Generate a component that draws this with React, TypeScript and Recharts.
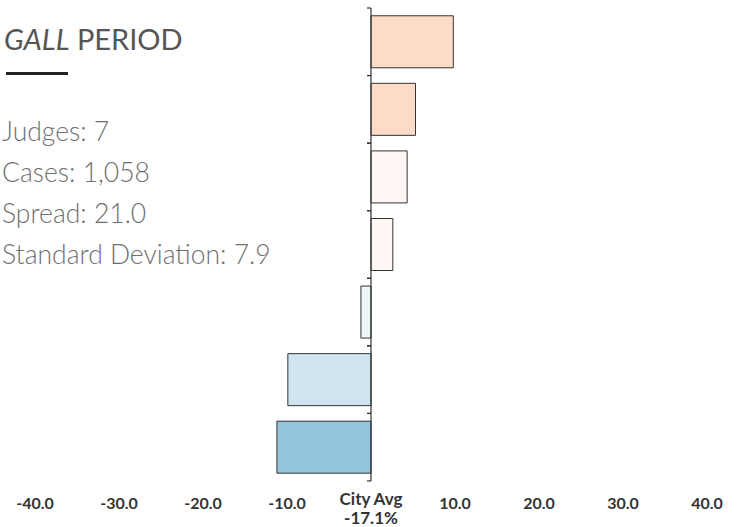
import { Bar, BarChart, Cell, ReferenceLine, Rectangle, XAxis, YAxis } from "recharts";

const judges = ["Judge A", "Judge B", "Judge C", "Judge D", "Judge E", "Judge F", "Judge G"];
const diffs = [9.8, 5.3, 4.3, 2.6, -1.2, -9.9, -11.2];
const colors = ["#fddbc7", "#fddbc7", "#fff7f3", "#fff7f3", "#eff6fa", "#d1e5f0", "#92c5de"];
const xTicks = [-40, -30, -20, -10, 0, 10, 20, 30, 40];
const cityAvg = "-17.1%";
const stats = ["Judges: 7", "Cases: 1,058", "Spread: 21.0", "Standard Deviation: 7.9"];

const chartData = judges.map((name, i) => ({ name, diff: diffs[i] }));

const GAP = 0.115; // share of the band left empty on each side of a bar
const font = { fontFamily: "Lato", fontWeight: 700, fill: "#333" };

function XTick({ x, y, payload }: any) {
  if (payload.value === 0) {
    return (
      <text x={x} y={y} textAnchor="middle" fontSize={17} {...font}>
        <tspan x={x} dy={16}>City Avg</tspan>
        <tspan x={x} dy={19}>{cityAvg}</tspan>
      </text>
    );
  }
  return (
    <text x={x} y={y} dy={20} textAnchor="middle" fontSize={16} {...font}>
      {Number(payload.value).toFixed(1)}
    </text>
  );
}

// bar plus the small ticks on the zero axis at the edges of its band
function BarWithTicks(props: any) {
  const { x, y, width, height, fill } = props;
  const zeroX = props.diff >= 0 ? Math.min(x, x + width) : Math.max(x, x + width);
  const band = height / (1 - 2 * GAP);
  const top = y - band * GAP;
  const bottom = top + band;
  return (
    <g>
      <Rectangle x={x} y={y} width={width} height={height} fill={fill} stroke="#333" strokeWidth={1} />
      <line x1={zeroX - 4} x2={zeroX} y1={top} y2={top} stroke="#333" strokeWidth={1.2} />
      <line x1={zeroX - 4} x2={zeroX} y1={bottom} y2={bottom} stroke="#333" strokeWidth={1.2} />
    </g>
  );
}

export default function App() {
  return (
    <div style={{ position: "absolute", left: 0, top: 0, width: 737, height: 527, background: "#fff" }}>
      <BarChart
        width={737}
        height={527}
        data={chartData}
        layout="vertical"
        margin={{ top: 8, right: 30, left: 35, bottom: 6 }}
        barCategoryGap={`${GAP * 100}%`}
      >
        <XAxis
          type="number"
          domain={[-40, 40]}
          ticks={xTicks}
          axisLine={false}
          tickLine={false}
          height={40}
          tick={<XTick />}
          interval={0}
        />
        <YAxis type="category" dataKey="name" hide />
        <ReferenceLine x={0} stroke="#333" strokeWidth={1.2} />
        <Bar dataKey="diff" shape={<BarWithTicks />} isAnimationActive={false}>
          {chartData.map((d, i) => (
            <Cell key={d.name} fill={colors[i]} />
          ))}
        </Bar>
      </BarChart>

      <div
        style={{
          position: "absolute",
          left: 4,
          top: 22,
          fontFamily: "Lato",
          fontSize: 29,
          lineHeight: 1.2,
          color: "#555",
          whiteSpace: "nowrap",
        }}
      >
        <i>GALL</i> PERIOD
      </div>
      <div style={{ position: "absolute", left: 6, top: 72, width: 62, height: 3, background: "#222" }} />
      <div
        style={{
          position: "absolute",
          left: 2,
          top: 111,
          fontFamily: "Lato",
          fontWeight: 300,
          fontSize: 26.5,
          lineHeight: "41px",
          color: "#707070",
          whiteSpace: "nowrap",
        }}
      >
        {stats.map((s) => (
          <div key={s}>{s}</div>
        ))}
      </div>
    </div>
  );
}
